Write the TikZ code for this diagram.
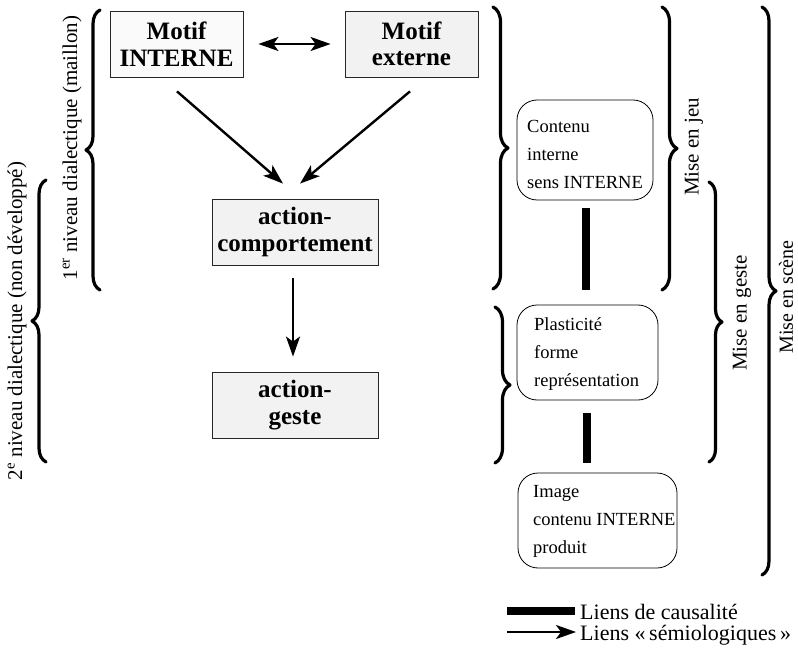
\documentclass[tikz,border=0pt]{standalone}
\usepackage{fontspec}
\setmainfont{Liberation Serif}
\usetikzlibrary{arrows.meta,decorations.pathreplacing,calc}
\begin{document}
\begin{tikzpicture}[x=1pt,y=-1pt,
 sqbox/.style={draw=black!85, line width=0.8pt, fill=black!5, align=center, font=\bfseries\fontsize{25}{26.5}\selectfont, inner sep=0pt},
 rbox/.style={draw, line width=0.8pt, rounded corners=20pt, inner sep=0pt},
 btext/.style={align=left, font=\fontsize{18.5}{28}\selectfont, inner sep=0pt, anchor=west},
 arr/.style={line width=2.4pt, -{Stealth[length=20pt,width=14pt,inset=5pt]}},
 arrtwo/.style={line width=2.4pt, {Stealth[length=20pt,width=14pt,inset=5pt]}-{Stealth[length=20pt,width=14pt,inset=5pt]}},
 causal/.style={line width=8pt},
 brc/.style={decorate, decoration={brace, amplitude=14pt}, line width=3.2pt, line cap=round, line join=round},
 vlab/.style={rotate=90, font=\fontsize{21}{24}\selectfont, inner sep=0pt},
 leg/.style={font=\fontsize{22}{26}\selectfont, inner sep=0pt, anchor=base west}]
\useasboundingbox (0,0) rectangle (798,655);

% square boxes
\node[sqbox, fill=black!2, minimum width=133pt, minimum height=66pt] (m1) at (176.5,44) {Motif\\INTERNE};
\node[sqbox, minimum width=133pt, minimum height=66pt] (m2) at (411.5,44) {Motif\\externe};
\node[sqbox, minimum width=166pt, minimum height=66pt] (ac) at (295,232) {action-\\comportement};
\node[sqbox, minimum width=166pt, minimum height=66pt] (ag) at (295,405) {action-\\geste};

% arrows
\draw[arrtwo, shorten <=15pt, shorten >=14pt] (m1.east) -- (m2.west);
\draw[arr] ([xshift=0.5pt,yshift=-14pt]m1.south) -- ([xshift=-12pt,yshift=15pt]ac.north);
\draw[arr] ([xshift=-1.5pt,yshift=-14pt]m2.south) -- ([xshift=5pt,yshift=15pt]ac.north);
\draw[arr, shorten <=13pt, shorten >=15pt] ([xshift=-2pt]ac.south) -- ([xshift=-2pt]ag.north);

% rounded boxes
\node[rbox, minimum width=136pt, minimum height=100pt] (c1) at (585,150) {};
\node[btext] (c1t) at (527,154) {Contenu\\interne\\sens INTERNE};
\node[rbox, minimum width=141pt, minimum height=95pt] (p1) at (587.5,352.5) {};
\node[btext] (p1t) at (534,354) {Plasticité\\forme\\représentation};
\node[rbox, minimum width=159pt, minimum height=95pt] (i1) at (597.5,520.5) {};
\node[btext] (i1t) at (533,521) {Image\\contenu INTERNE\\produit};

% causal bars
\draw[causal, shorten <=8pt, shorten >=15pt] ([xshift=1pt]c1.south) -- ([xshift=-1.5pt]p1.north);
\draw[causal, shorten <=13pt, shorten >=10pt] ([xshift=-0.5pt]p1.south) -- ([xshift=-10.5pt]i1.north);

% braces
\draw[brc] (100,290) -- (100,10);
\draw[brc] (46,462) -- (46,180);
\draw[brc, decoration={amplitude=15pt}] (493,7) -- (493,289);
\draw[brc, decoration={amplitude=15pt}] (495,307) -- (495,463);
\draw[brc, decoration={amplitude=15pt}] (662,7) -- (662,290);
\draw[brc, decoration={amplitude=13pt}] (709,182) -- (709,462);
\draw[brc, decoration={amplitude=14pt}] (762,7) -- (762,575);

% rotated labels
\node[vlab] (l1) at (72,148) {1\textsuperscript{er} niveau dialectique (maillon)};
\node[vlab] (l2) at (17,321) {2\textsuperscript{e} niveau dialectique (non développé)};
\node[vlab] (l3) at (694,147) {Mise en jeu};
\node[vlab] (l4) at (742,313) {Mise en geste};
\node[vlab, font=\fontsize{20}{24}\selectfont] (l5) at (786,297) {Mise en scène};

% legend
\coordinate (lc1) at (507,611);
\coordinate (lc2) at (575,611);
\draw[causal] (lc1) -- (lc2);
\node[leg] (lt1) at (580,619) {Liens de causalité};
\coordinate (la1) at (507,632);
\coordinate (la2) at (576,632);
\draw[arr] (la1) -- (la2);
\node[leg] (lt2) at (580,640) {Liens «\,sémiologiques\,»};
\end{tikzpicture}
\end{document}
